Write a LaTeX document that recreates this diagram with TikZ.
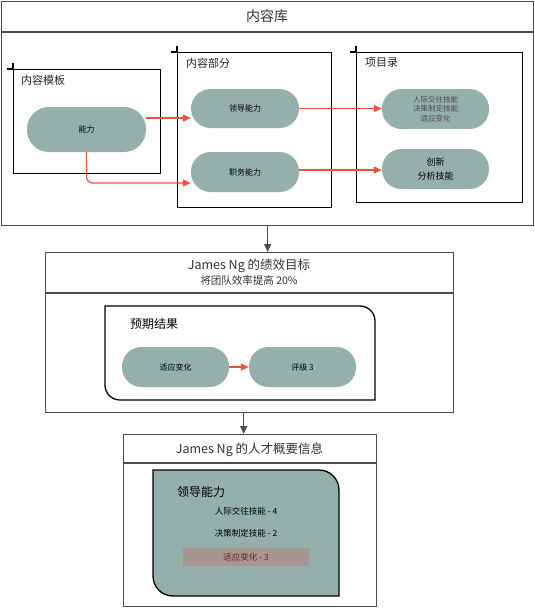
\documentclass[tikz,border=0pt]{standalone}
\usepackage{fontspec}
\setmainfont{Noto Sans CJK SC}
\usetikzlibrary{arrows.meta}
\definecolor{pillc}{HTML}{95AFAD}
\definecolor{redc}{HTML}{E8553F}
\definecolor{greyc}{HTML}{4D4D4D}
\definecolor{hlc}{HTML}{A8958F}
\definecolor{hltext}{HTML}{5A2A2A}
\begin{document}
\begin{tikzpicture}[x=1pt,y=-1pt,
  outerbox/.style={draw=greyc,line width=1.3pt,anchor=north west,inner sep=0pt},
  frame/.style={draw=black,line width=1.3pt,anchor=north west,inner sep=0pt},
  pill/.style={fill=pillc,rounded corners=19.5pt,minimum width=107pt,minimum height=40pt,inner sep=0pt,align=center,font=\fontsize{8}{9.5}\selectfont},
  rarrow/.style={draw=redc,line width=1.2pt,-{Triangle[length=8pt,width=7pt]}},
  garrow/.style={draw=greyc,line width=1.2pt,-{Triangle[length=8pt,width=7pt]}},
  lbl/.style={anchor=west,inner sep=0pt,font=\fontsize{11}{13}\selectfont,text=black!85},
  ttl/.style={inner sep=0pt,align=center,text=black!80}]
\useasboundingbox (0,0) rectangle (535,608);
\fill[white] (0,0) rectangle (535,608);

% ---------- content library ----------
\node[outerbox,minimum width=532pt,minimum height=224pt] (lib) at (1,1) {};
\draw[greyc,line width=1.3pt] (1,32) -- (533,32);
\node[ttl,font=\fontsize{14}{16}\selectfont] (libt) at (267,16.5) {内容库};

% template frame
\node[frame,minimum width=147pt,minimum height=104pt] (tplbox) at (13,69) {};
\draw[black,line width=1.3pt] (tplbox.north west) ++(-6,0) -- (tplbox.north west) -- ++(0,-6);
\node[lbl] (tpll) at (21,80) {内容模板};
\node[pill,minimum width=119pt,minimum height=45pt,rounded corners=22pt] (neng) at (86.5,129.5) {能力};

% section frame
\node[frame,minimum width=154pt,minimum height=155pt] (secbox) at (177,52) {};
\draw[black,line width=1.3pt] (secbox.north west) ++(-6,0) -- (secbox.north west) -- ++(0,-6);
\node[lbl] (secl) at (186,63) {内容部分};
\node[pill,minimum width=108pt,minimum height=39pt] (lingdao) at (245,108.5) {领导能力};
\node[pill,minimum width=108pt,minimum height=40pt] (zhiwu) at (245,172) {职务能力};

% item catalogue frame
\node[frame,minimum width=166pt,minimum height=150pt] (catbox) at (356,52) {};
\draw[black,line width=1.3pt] (catbox.north west) ++(-6,0) -- (catbox.north west) -- ++(0,-6);
\node[lbl] (catl) at (365,63) {项目录};
\node[pill,text=black!70,font=\fontsize{7.5}{9.8}\selectfont] (renji) at (435.5,109) {人际交往技能\\决策制定技能\\适应变化};
\node[pill,font=\fontsize{9}{13.5}\selectfont] (chuangxin) at (435.5,169) {创新\\分析技能};

% red connectors
\draw[rarrow] ([yshift=11.5pt]neng.east) coordinate (a1) -- (a1 -| lingdao.west);
\draw[rarrow,rounded corners=6pt] (neng.south) |- ([yshift=-11pt]zhiwu.west);
\draw[rarrow] (lingdao.east) -- (lingdao.east -| renji.west);
\draw[rarrow] ([yshift=2pt]zhiwu.east) coordinate (a2) -- (a2 -| chuangxin.west);

% ---------- performance goal ----------
\node[outerbox,minimum width=408pt,minimum height=160pt] (goal) at (45,252) {};
\draw[greyc,line width=1.3pt] (45,293) -- (453,293);
\node[ttl,font=\fontsize{12.5}{14}\selectfont] (goalt) at (249,266) {James Ng 的绩效目标};
\node[ttl,font=\fontsize{10.5}{12}\selectfont] (goals) at (249,280) {将团队效率提高 20\%};
\draw[black,line width=1.3pt] (105,306) -- (360,306) arc[start angle=-90,end angle=0,radius=15]
  -- (375,400) -- (120,400) arc[start angle=90,end angle=180,radius=15] -- cycle;
\node[lbl,font=\fontsize{12}{14}\selectfont,text=black] (yq) at (130,324) {预期结果};
\node[pill] (shiying) at (175.5,367) {适应变化};
\node[pill] (pingji) at (302.5,367) {评级 3};
\draw[rarrow] (shiying.east) -- (pingji.west);

% ---------- talent profile ----------
\node[outerbox,minimum width=253pt,minimum height=172pt] (prof) at (123,434) {};
\draw[greyc,line width=1.3pt] (123,463) -- (376,463);
\node[ttl,font=\fontsize{12.5}{14}\selectfont] (proft) at (249.5,450) {James Ng 的人才概要信息};
\filldraw[fill=pillc,draw=black,line width=1.3pt] (153,470) -- (319,470) arc[start angle=-90,end angle=0,radius=20]
  -- (339,596) -- (173,596) arc[start angle=90,end angle=180,radius=20] -- cycle;
\node[lbl,font=\fontsize{12}{14}\selectfont,text=black] (ld) at (177,492) {领导能力};
\node[inner sep=0pt,font=\fontsize{8.5}{10}\selectfont] (it1) at (246,511) {人际交往技能 - 4};
\node[inner sep=0pt,font=\fontsize{8.5}{10}\selectfont] (it2) at (246,533) {决策制定技能 - 2};
\node[fill=hlc,minimum width=126pt,minimum height=18pt,inner sep=0pt,text=hltext,font=\fontsize{8.5}{10}\selectfont] (it3) at (246,557) {适应变化 - 3};

% grey connectors
\draw[garrow] (lib.south) -- (lib.south |- goal.north);
\draw[garrow] ([xshift=-6pt]goal.south) coordinate (g1) -- (g1 |- prof.north);
\end{tikzpicture}
\end{document}
